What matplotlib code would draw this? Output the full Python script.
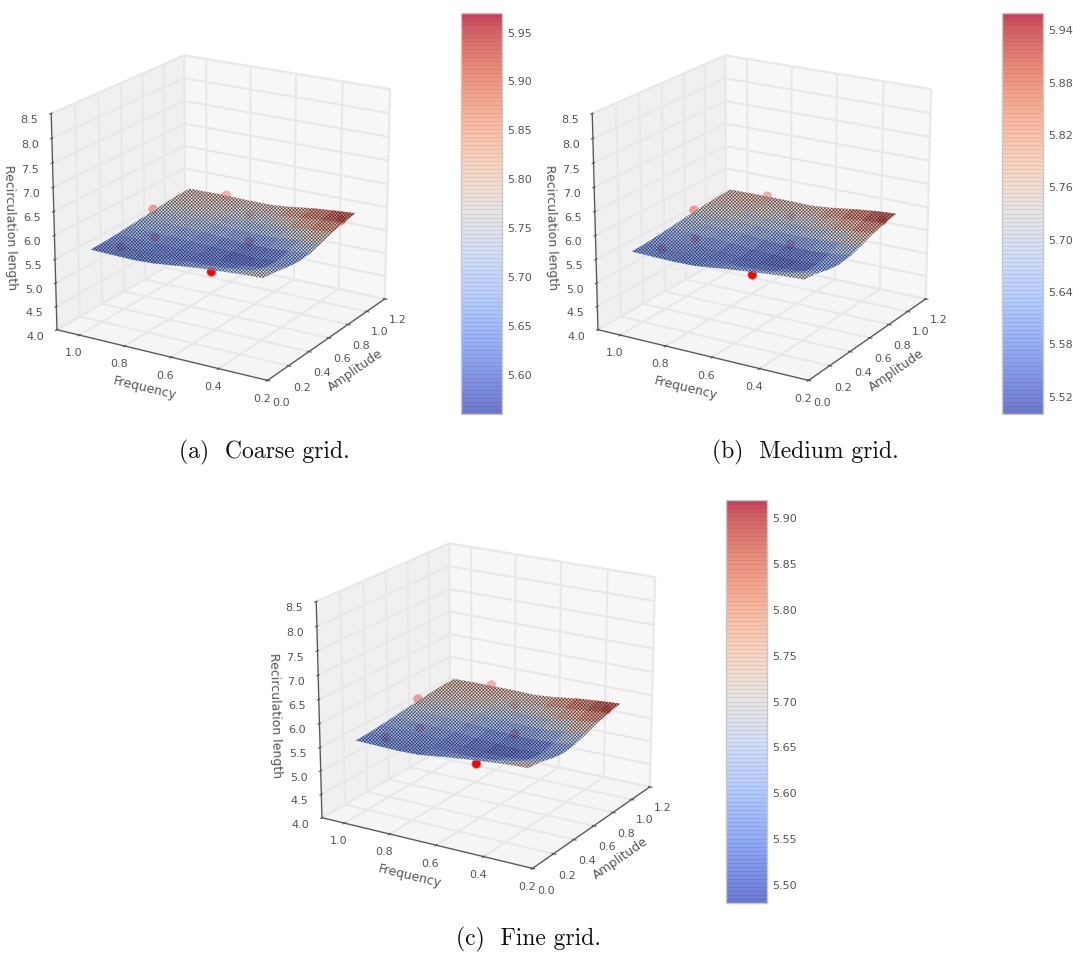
import numpy as np
import matplotlib
matplotlib.use('Agg')
import matplotlib.pyplot as plt
from matplotlib.cm import ScalarMappable
from matplotlib.colors import Normalize

amplitude = [0.0, 0.11, 0.22, 0.33, 0.45, 0.56, 0.67, 0.78, 0.90]
frequency = [0.22, 0.31, 0.40, 0.49, 0.58, 0.67, 0.76, 0.85, 0.94]

# rows follow frequency, columns follow amplitude, values as on the colour bar
coarse_z = [
    [5.80, 5.77, 5.72, 5.69, 5.71, 5.78, 5.86, 5.92, 5.97],
    [5.78, 5.71, 5.62, 5.60, 5.65, 5.73, 5.82, 5.89, 5.94],
    [5.75, 5.65, 5.57, 5.57, 5.62, 5.69, 5.77, 5.84, 5.90],
    [5.72, 5.62, 5.58, 5.60, 5.63, 5.68, 5.73, 5.79, 5.84],
    [5.67, 5.61, 5.60, 5.62, 5.65, 5.69, 5.73, 5.76, 5.80],
    [5.62, 5.60, 5.62, 5.64, 5.68, 5.72, 5.75, 5.78, 5.80],
    [5.60, 5.61, 5.63, 5.66, 5.70, 5.74, 5.77, 5.80, 5.81],
    [5.61, 5.62, 5.64, 5.68, 5.71, 5.75, 5.78, 5.80, 5.81],
    [5.62, 5.63, 5.65, 5.68, 5.71, 5.74, 5.77, 5.79, 5.80],
]
medium_z = [
    [5.77, 5.74, 5.67, 5.64, 5.67, 5.75, 5.84, 5.91, 5.96],
    [5.75, 5.66, 5.55, 5.54, 5.60, 5.69, 5.79, 5.87, 5.93],
    [5.71, 5.59, 5.51, 5.51, 5.57, 5.65, 5.74, 5.82, 5.88],
    [5.67, 5.56, 5.52, 5.54, 5.58, 5.64, 5.70, 5.76, 5.82],
    [5.62, 5.56, 5.54, 5.56, 5.60, 5.65, 5.70, 5.74, 5.78],
    [5.57, 5.56, 5.57, 5.60, 5.64, 5.68, 5.72, 5.76, 5.79],
    [5.56, 5.57, 5.59, 5.62, 5.66, 5.71, 5.75, 5.78, 5.79],
    [5.57, 5.58, 5.60, 5.64, 5.68, 5.72, 5.76, 5.78, 5.79],
    [5.58, 5.59, 5.62, 5.65, 5.69, 5.72, 5.75, 5.77, 5.78],
]
fine_z = [
    [5.76, 5.73, 5.66, 5.62, 5.65, 5.72, 5.81, 5.87, 5.92],
    [5.74, 5.65, 5.54, 5.52, 5.58, 5.67, 5.76, 5.83, 5.89],
    [5.70, 5.58, 5.49, 5.49, 5.55, 5.62, 5.71, 5.79, 5.85],
    [5.66, 5.54, 5.50, 5.52, 5.56, 5.62, 5.67, 5.74, 5.79],
    [5.61, 5.54, 5.52, 5.54, 5.58, 5.63, 5.67, 5.71, 5.75],
    [5.55, 5.54, 5.55, 5.58, 5.62, 5.66, 5.70, 5.73, 5.76],
    [5.54, 5.55, 5.57, 5.60, 5.64, 5.69, 5.72, 5.75, 5.76],
    [5.55, 5.56, 5.59, 5.62, 5.66, 5.70, 5.73, 5.75, 5.76],
    [5.56, 5.57, 5.60, 5.63, 5.67, 5.70, 5.73, 5.75, 5.75],
]

# the surface sits this much higher on the z axis than on the colour bar
axis_offset = 0.25

# sample points, same places in each panel apart from the height
pts_amp = [0.00, 0.42, 0.86, 0.79, 0.96, 0.68, 0.30, 0.12]
pts_freq = [0.43, 0.46, 0.26, 0.62, 0.80, 1.00, 0.81, 0.87]
coarse_pts = [5.70, 5.74, 5.84, 5.68, 5.72, 5.56, 5.62, 5.60]
medium_pts = [5.64, 5.68, 5.83, 5.66, 5.70, 5.54, 5.58, 5.56]
fine_pts = [5.62, 5.66, 5.80, 5.64, 5.68, 5.52, 5.56, 5.54]

cbar_lims = [(5.56, 5.97), (5.50, 5.96), (5.48, 5.92)]
cbar_ticks = [
    [5.60, 5.65, 5.70, 5.75, 5.80, 5.85, 5.90, 5.95],
    [5.52, 5.58, 5.64, 5.70, 5.76, 5.82, 5.88, 5.94],
    [5.50, 5.55, 5.60, 5.65, 5.70, 5.75, 5.80, 5.85, 5.90],
]
captions = ['(a)  Coarse grid.', '(b)  Medium grid.', '(c)  Fine grid.']
amp_ticks = [0.0, 0.2, 0.4, 0.6, 0.8, 1.0, 1.2]
freq_ticks = [0.2, 0.4, 0.6, 0.8, 1.0]
z_ticks = [4.0, 4.5, 5.0, 5.5, 6.0, 6.5, 7.0, 7.5, 8.0, 8.5]

W, H = 1073, 956
grey = '#555555'
plt.rcParams['hatch.linewidth'] = 0.4
plt.rcParams['font.family'] = ['DejaVu Sans']

fig = plt.figure(figsize=(W / 100, H / 100), dpi=100)


def rect(x0, y0, x1, y1):
    # pixel box, y measured from the top
    return [x0 / W, 1 - y1 / H, (x1 - x0) / W, (y1 - y0) / H]


def panel(dx, dy, table, pts, lims, ticks, caption, cap_x, cap_y, bar):
    ax = fig.add_axes(rect(dx + 8, dy + 5, dx + 428, dy + 425),
                      projection='3d', computed_zorder=False)
    ax.set_box_aspect((1, 1, 0.93), zoom=0.95)
    ax.view_init(elev=19.5, azim=211)
    ax.patch.set_alpha(0)

    norm = Normalize(lims[0] + axis_offset, lims[1] + axis_offset)
    heights = np.array(table) + axis_offset
    ax.scatter(pts_amp, pts_freq, np.array(pts) + axis_offset, c='red', s=42,
               edgecolor='#d08080', linewidth=0.5, depthshade=True, zorder=1)
    A, F = np.meshgrid(amplitude, frequency)
    surf = ax.plot_surface(A, F, heights, cmap='coolwarm', norm=norm,
                           rstride=1, cstride=1, linewidth=0.4, alpha=0.75,
                           antialiased=True, zorder=2)
    surf.set_edgecolor('face')
    # dense mesh look: hatch only, laid over the smooth faces
    mesh = ax.plot_surface(A, F, heights, rstride=1, cstride=1, linewidth=0,
                           color='white', shade=False, zorder=3)
    mesh.set_facecolor((0, 0, 0, 0))
    mesh.set_edgecolor((0.06, 0.06, 0.1, 0.75))
    mesh.set_linewidth(0)
    mesh.set_hatch('//////////\\\\\\\\\\\\\\\\\\\\')

    ax.set_xlim(0, 1.2)
    ax.set_ylim(0.2, 1.1)
    ax.set_zlim(4, 8.5)
    ax.set_xticks(amp_ticks)
    ax.set_yticks(freq_ticks)
    ax.set_zticks(z_ticks)
    ax.set_xlabel('Amplitude', color=grey, fontsize=9, labelpad=-1)
    ax.set_ylabel('Frequency', color=grey, fontsize=9, labelpad=-3)
    ax.set_zlabel('Recirculation length', color=grey, fontsize=9, labelpad=-1)
    ax.tick_params(labelsize=8, colors=grey, pad=-1)
    ax.tick_params(axis='x', pad=2)
    ax.tick_params(axis='z', pad=2)

    pane_cols = {ax.xaxis: '#f7f7f7', ax.yaxis: '#f0f0f0', ax.zaxis: '#f5f5f5'}
    for axis, col in pane_cols.items():
        axis.set_pane_color(col)
        axis.pane.set_edgecolor('#e8e8e8')
        axis.line.set_color(grey)
        axis.line.set_linewidth(0.9)
        axis._axinfo['grid']['color'] = '#e8e8e8'
        axis._axinfo['grid']['linewidth'] = 1.5
        axis._axinfo['tick']['inward_factor'] = 0.12
        axis._axinfo['tick']['outward_factor'] = 0.08

    cax = fig.add_axes(rect(*bar))
    sm = ScalarMappable(norm=Normalize(*lims), cmap=plt.get_cmap('coolwarm', 100))
    cb = fig.colorbar(sm, cax=cax, alpha=0.75, ticks=ticks, drawedges=True)
    cb.dividers.set_color((0.3, 0.1, 0.1, 0.12))
    cb.dividers.set_linewidth(0.6)
    cb.ax.set_yticklabels(['%.2f' % t for t in ticks])
    cb.ax.tick_params(length=0, labelsize=8, labelcolor=grey, pad=4)
    cb.outline.set_edgecolor('#c8c8c8')
    cb.outline.set_linewidth(1)

    fig.text(cap_x / W, 1 - cap_y / H, caption, family='cmr10', fontsize=17,
             ha='center', va='center', color='#111111')


panel(0, 0, coarse_z, coarse_pts, cbar_lims[0], cbar_ticks[0], captions[0],
      264, 452, (461, 13, 502, 414))
panel(541, 0, medium_z, medium_pts, cbar_lims[1], cbar_ticks[1], captions[1],
      805, 452, (1002, 13, 1043, 414))
panel(265, 488, fine_z, fine_pts, cbar_lims[2], cbar_ticks[2], captions[2],
      529, 939, (726, 500, 767, 903))

fig.savefig('out.png', dpi=100)
